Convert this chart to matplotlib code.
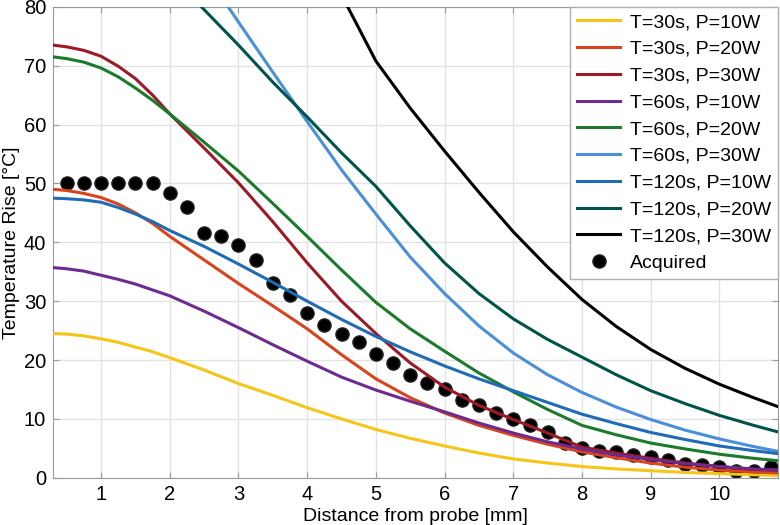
import matplotlib
matplotlib.use('Agg')
import matplotlib.pyplot as plt

plt.rcParams['font.family'] = ['Liberation Sans', 'DejaVu Sans']

# distances [mm] where the curves were read
x = [0.3, 0.5, 0.75, 1.0, 1.25, 1.5, 1.75, 2.0, 2.5, 3.0, 3.5, 4.0, 4.5, 5.0, 5.5, 6.0,
     6.5, 7.0, 7.5, 8.0, 8.5, 9.0, 9.5, 10.0, 10.5, 10.85]

t30_p10 = [24.5, 24.4, 24.1, 23.6, 23.0, 22.2, 21.4, 20.4, 18.3, 16.0, 14.0, 11.9, 10.0,
           8.2, 6.7, 5.4, 4.2, 3.2, 2.5, 1.9, 1.5, 1.2, 0.9, 0.7, 0.5, 0.4]
t30_p20 = [49.0, 48.8, 48.3, 47.6, 46.5, 45.0, 43.2, 41.0, 37.0, 33.0, 29.2, 25.3, 20.9,
           16.8, 13.6, 11.0, 8.9, 7.2, 5.7, 4.4, 3.4, 2.5, 1.8, 1.3, 1.0, 0.8]
t30_p30 = [73.5, 73.2, 72.6, 71.6, 69.9, 67.8, 65.0, 61.8, 56.0, 50.1, 43.5, 36.5, 30.0,
           24.5, 19.5, 15.4, 12.3, 9.9, 7.6, 5.2, 4.2, 3.3, 2.5, 1.9, 1.4, 1.3]
t60_p10 = [35.7, 35.5, 35.1, 34.4, 33.7, 32.9, 31.9, 30.9, 28.3, 25.5, 22.6, 19.8, 17.1,
           14.9, 13.0, 11.2, 9.3, 7.6, 6.1, 4.9, 3.9, 3.1, 2.4, 1.9, 1.5, 1.3]
t60_p20 = [71.5, 71.2, 70.6, 69.6, 68.1, 66.2, 64.1, 61.8, 57.0, 52.1, 46.6, 41.0, 35.3,
           29.8, 25.3, 21.5, 17.8, 14.6, 11.6, 8.9, 7.3, 5.9, 4.9, 4.0, 3.3, 2.9]
t120_p10 = [47.5, 47.4, 47.2, 46.8, 45.9, 44.8, 43.5, 42.0, 39.3, 36.3, 33.2, 30.0, 26.9,
            24.0, 21.4, 19.0, 16.8, 14.8, 12.8, 10.8, 9.2, 7.7, 6.5, 5.4, 4.6, 4.1]

# these three leave the top of the plot, so they start where they cross 80
x_t60_p30 = [2.85, 3.0, 3.5, 4.0, 4.5, 5.0, 5.5, 6.0, 6.5, 7.0, 7.5, 8.0, 8.5,
             9.0, 9.5, 10.0, 10.5, 10.85]
t60_p30 = [80.0, 77.4, 68.9, 60.5, 52.3, 44.8, 37.5, 31.3, 25.8, 21.2, 17.5, 14.5, 12.0,
           9.9, 8.1, 6.6, 5.3, 4.5]
x_t120_p20 = [2.46, 3.0, 3.5, 4.0, 4.5, 5.0, 5.5, 6.0, 6.5, 7.0, 7.5, 8.0, 8.5,
              9.0, 9.5, 10.0, 10.5, 10.85]
t120_p20 = [80.0, 73.5, 67.2, 61.3, 55.2, 49.5, 42.8, 36.5, 31.3, 27.0, 23.5, 20.5, 17.5,
            14.8, 12.6, 10.6, 8.9, 7.8]
x_t120_p30 = [4.59, 5.0, 5.5, 6.0, 6.5, 7.0, 7.5, 8.0, 8.5, 9.0, 9.5, 10.0, 10.5, 10.85]
t120_p30 = [80.0, 70.8, 62.8, 55.5, 48.5, 41.8, 35.8, 30.3, 25.7, 21.8, 18.6, 15.9, 13.6, 12.1]

# measured points
acq_x = [0.5, 0.75, 1.0, 1.25, 1.5, 1.75, 2.0, 2.25, 2.5, 2.75, 3.0, 3.25, 3.5, 3.75,
         4.0, 4.25, 4.5, 4.75, 5.0, 5.25, 5.5, 5.75, 6.0, 6.25, 6.5, 6.75, 7.0, 7.25,
         7.5, 7.75, 8.0, 8.25, 8.5, 8.75, 9.0, 9.25, 9.5, 9.75, 10.0, 10.25, 10.5, 10.75]
acq_y = [50, 50, 50, 50, 50, 50, 48.4, 46, 41.6, 41, 39.5, 37, 33, 31,
         28, 26, 24.4, 23, 21, 19.5, 17.5, 16.1, 15.1, 13.2, 12.3, 11, 9.9, 8.9,
         7.8, 5.9, 5.0, 4.6, 4.4, 3.8, 3.5, 3.0, 2.3, 2.2, 1.8, 1.2, 1.1, 1.8]

series = [
    ('T=30s, P=10W', x, t30_p10, '#f5c518'),
    ('T=30s, P=20W', x, t30_p20, '#d9431e'),
    ('T=30s, P=30W', x, t30_p30, '#9c1a26'),
    ('T=60s, P=10W', x, t60_p10, '#6e2b8f'),
    ('T=60s, P=20W', x, t60_p20, '#1b7a2b'),
    ('T=60s, P=30W', x_t60_p30, t60_p30, '#4a8fda'),
    ('T=120s, P=10W', x, t120_p10, '#1f6cb4'),
    ('T=120s, P=20W', x_t120_p20, t120_p20, '#00544a'),
    ('T=120s, P=30W', x_t120_p30, t120_p30, '#000000'),
]

fig = plt.figure(figsize=(7.8, 5.25), dpi=100)
ax = fig.add_axes([0.068, 0.09, 0.929, 0.897])

handles = []
for label, xs, ys, c in series:
    h, = ax.plot(xs, ys, color=c, lw=2.2, label=label, zorder=3,
                 solid_joinstyle='round')
    handles.append(h)

dots, = ax.plot(acq_x, acq_y, 'o', color='black', ms=9.5, mec='#222222',
                label='Acquired', zorder=2)
handles.append(dots)

ax.set_xlim(0.3, 10.85)
ax.set_ylim(0, 80)
ax.set_xticks(range(1, 11))
ax.set_yticks(range(0, 81, 10))
ax.grid(True, color='#e3e3e3', lw=1)
ax.set_axisbelow(True)
ax.tick_params(direction='in', top=True, right=True, labelsize=14.5,
               color='#999999', length=4, pad=5)
for s in ax.spines.values():
    s.set_color('#9a9a9a')

ax.set_xlabel('Distance from probe [mm]', fontsize=14, labelpad=3)
ax.set_ylabel('Temperature Rise [°C]', fontsize=14, labelpad=3)

leg = ax.legend(handles=handles, loc='upper right', fontsize=14,
                borderaxespad=0, handlelength=2.2, labelspacing=0.47,
                handletextpad=0.5, borderpad=0.35, fancybox=False,
                framealpha=1, edgecolor='#b0b0b0')
leg.get_frame().set_linewidth(1)

fig.savefig('out.png', dpi=100)
